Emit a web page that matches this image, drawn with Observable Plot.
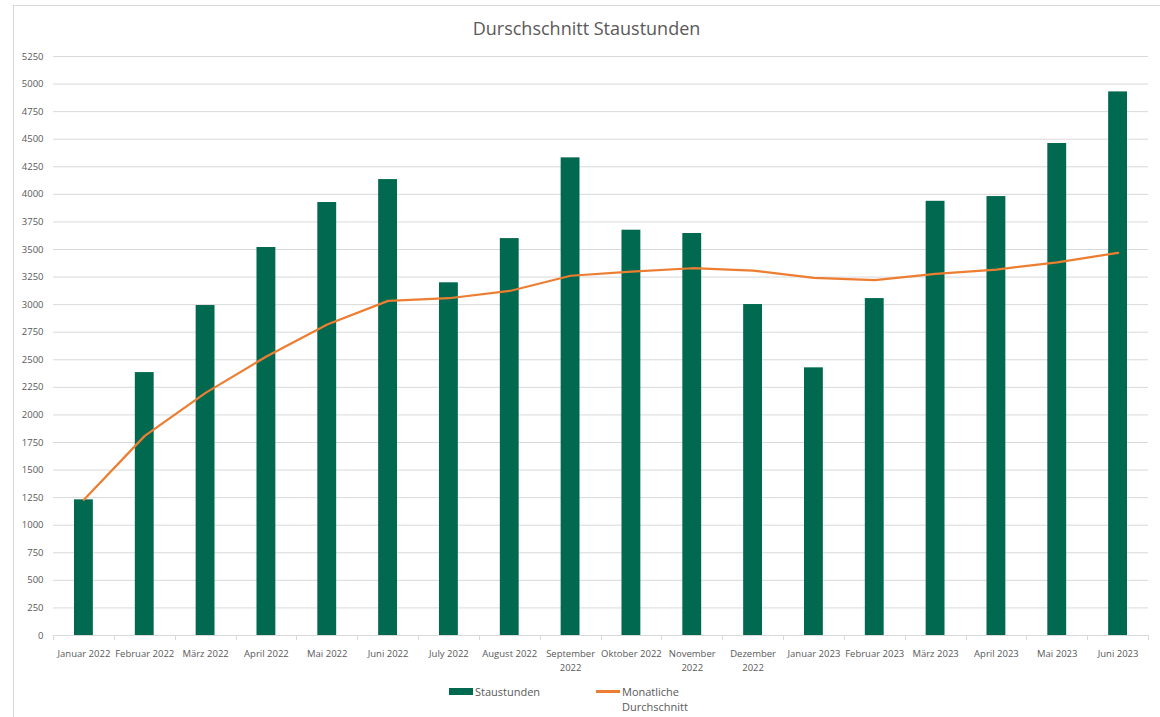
<!DOCTYPE html>
<html>
<head>
<meta charset="utf-8">
<script src="https://cdn.jsdelivr.net/npm/d3@7"></script>
<script src="https://cdn.jsdelivr.net/npm/@observablehq/plot@0.6"></script>
<style>
  body { margin: 0; background: #fff; font-family: "Open Sans", sans-serif; }
  #wrap { position: relative; width: 1160px; height: 717px; overflow: hidden; background: #fff; }
  #frame { position: absolute; left: 13px; top: 5px; width: 1300px; height: 800px; border-left: 1px solid #d9d9d9; border-top: 1px solid #d9d9d9; }
  #title { position: absolute; left: 13px; width: 1147px; top: 19px; text-align: center; font-size: 18px; line-height: 18px; color: #595959; }
  #chart { position: absolute; left: 0; top: 45px; }
  .leg { position: absolute; font-size: 11px; line-height: 15px; color: #595959; }
  .sw { position: absolute; }
</style>
</head>
<body>
<div id="wrap">
  <div id="frame"></div>
  <div id="title">Durschschnitt Staustunden</div>
  <div id="chart"></div>
  <div class="sw" style="left:449px;top:688px;width:24px;height:7px;background:#00694f;"></div>
  <div class="leg" style="left:475px;top:684px;">Staustunden</div>
  <div class="sw" style="left:596px;top:690px;width:24px;height:2.5px;background:#ed7d31;"></div>
  <div class="leg" style="left:622px;top:684px;">Monatliche<br>Durchschnitt</div>
</div>
<script>
const months = ["Januar 2022","Februar 2022","März 2022","April 2022","Mai 2022","Juni 2022","July 2022","August 2022","September 2022","Oktober 2022","November 2022","Dezember 2022","Januar 2023","Februar 2023","März 2023","April 2023","Mai 2023","Juni 2023"];
const monthLabels = ["Januar 2022","Februar 2022","März 2022","April 2022","Mai 2022","Juni 2022","July 2022","August 2022","September\n2022","Oktober 2022","November\n2022","Dezember\n2022","Januar 2023","Februar 2023","März 2023","April 2023","Mai 2023","Juni 2023"];
const staustunden = [1230, 2384, 2992, 3518, 3926, 4134, 3198, 3599, 4331, 3675, 3645, 3001, 2427, 3055, 3937, 3980, 4461, 4929];
const durchschnitt = [1230, 1810, 2200, 2530, 2820, 3034, 3058, 3124, 3262, 3300, 3330, 3309, 3243, 3222, 3278, 3318, 3384, 3470];
const yTicks = [0, 250, 500, 750, 1000, 1250, 1500, 1750, 2000, 2250, 2500, 2750, 3000, 3250, 3500, 3750, 4000, 4250, 4500, 4750, 5000, 5250];

const data = months.map((m, i) => ({month: m, label: monthLabels[i], value: staustunden[i], avg: durchschnitt[i]}));
const labelOf = new Map(data.map(d => [d.month, d.label]));

function bandTicks(...args) {
  const dims = args.find(a => a && typeof a === "object" && "marginLeft" in a);
  const scales = args.find(a => a && typeof a === "object" && typeof a.y === "function");
  const ns = "http://www.w3.org/2000/svg";
  const g = document.createElementNS(ns, "g");
  const x0 = dims.marginLeft, x1 = dims.width - dims.marginRight;
  const step = (x1 - x0) / months.length;
  const y0 = scales.y(0);
  for (let i = 0; i <= months.length; i++) {
    const l = document.createElementNS(ns, "line");
    const xx = Math.round(x0 + i * step) + 0.5;
    l.setAttribute("x1", xx); l.setAttribute("x2", xx);
    l.setAttribute("y1", y0); l.setAttribute("y2", y0 + 5);
    l.setAttribute("stroke", "#d9d9d9");
    g.appendChild(l);
  }
  return g;
}

const plot = Plot.plot({
  width: 1160,
  height: 630,
  marginLeft: 53,
  marginRight: 12,
  marginTop: 11,
  marginBottom: 40,
  style: {fontFamily: "Open Sans, sans-serif", background: "transparent", overflow: "visible"},
  x: {type: "band", domain: months, paddingInner: 0.69, paddingOuter: 0.345, round: false, label: null},
  y: {domain: [0, 5250], label: null},
  marks: [
    Plot.gridY(yTicks, {stroke: "#d9d9d9", strokeOpacity: 1, strokeWidth: 1}),
    Plot.ruleY([0], {stroke: "#d9d9d9", strokeWidth: 1}),
    bandTicks,
    Plot.barY(data, {x: "month", y: "value", fill: "#00694f"}),
    Plot.lineY(data, {x: "month", y: "avg", stroke: "#ed7d31", strokeWidth: 2.25, strokeLinejoin: "round"}),
    Plot.axisY(yTicks, {tickSize: 0, tickPadding: 10, fontSize: 9.5, fill: "#595959", label: null, tickFormat: d => String(d)}),
    Plot.axisX({tickSize: 0, tickPadding: 11, fontSize: 9.5, fill: "#595959", label: null, lineHeight: 1.5, tickFormat: d => labelOf.get(d)})
  ]
});
document.getElementById("chart").appendChild(plot);
</script>
</body>
</html>
